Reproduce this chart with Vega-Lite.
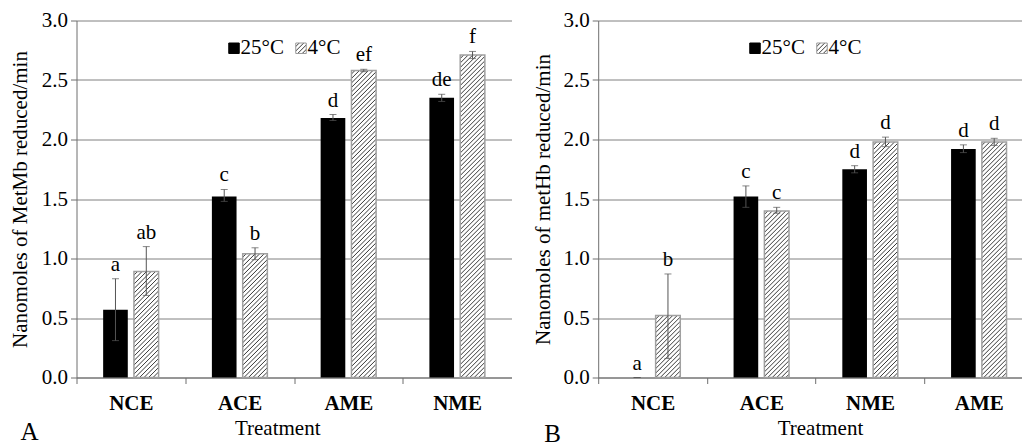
{
"$schema":"https://vega.github.io/schema/vega-lite/v6.json",
"background":"white",
"autosize":{"type":"pad"},
"padding":{"left":9.5,"top":9.5,"right":0,"bottom":0},
"params":[{"name":"hatch","value":[
{"offset":0,"color":"#fff"},{"offset":0.00688,"color":"#fff"},{"offset":0.00975,"color":"#3a3a3a"},
{"offset":0.0125,"color":"#fff"},{"offset":0.01938,"color":"#fff"},{"offset":0.02225,"color":"#3a3a3a"},
{"offset":0.025,"color":"#fff"},{"offset":0.03188,"color":"#fff"},{"offset":0.03475,"color":"#3a3a3a"},
{"offset":0.0375,"color":"#fff"},{"offset":0.04438,"color":"#fff"},{"offset":0.04725,"color":"#3a3a3a"},
{"offset":0.05,"color":"#fff"},{"offset":0.05688,"color":"#fff"},{"offset":0.05975,"color":"#3a3a3a"},
{"offset":0.0625,"color":"#fff"},{"offset":0.06938,"color":"#fff"},{"offset":0.07225,"color":"#3a3a3a"},
{"offset":0.075,"color":"#fff"},{"offset":0.08188,"color":"#fff"},{"offset":0.08475,"color":"#3a3a3a"},
{"offset":0.0875,"color":"#fff"},{"offset":0.09438,"color":"#fff"},{"offset":0.09725,"color":"#3a3a3a"},
{"offset":0.1,"color":"#fff"},{"offset":0.10688,"color":"#fff"},{"offset":0.10975,"color":"#3a3a3a"},
{"offset":0.1125,"color":"#fff"},{"offset":0.11938,"color":"#fff"},{"offset":0.12225,"color":"#3a3a3a"},
{"offset":0.125,"color":"#fff"},{"offset":0.13188,"color":"#fff"},{"offset":0.13475,"color":"#3a3a3a"},
{"offset":0.1375,"color":"#fff"},{"offset":0.14438,"color":"#fff"},{"offset":0.14725,"color":"#3a3a3a"},
{"offset":0.15,"color":"#fff"},{"offset":0.15688,"color":"#fff"},{"offset":0.15975,"color":"#3a3a3a"},
{"offset":0.1625,"color":"#fff"},{"offset":0.16938,"color":"#fff"},{"offset":0.17225,"color":"#3a3a3a"},
{"offset":0.175,"color":"#fff"},{"offset":0.18188,"color":"#fff"},{"offset":0.18475,"color":"#3a3a3a"},
{"offset":0.1875,"color":"#fff"},{"offset":0.19438,"color":"#fff"},{"offset":0.19725,"color":"#3a3a3a"},
{"offset":0.2,"color":"#fff"},{"offset":0.20688,"color":"#fff"},{"offset":0.20975,"color":"#3a3a3a"},
{"offset":0.2125,"color":"#fff"},{"offset":0.21938,"color":"#fff"},{"offset":0.22225,"color":"#3a3a3a"},
{"offset":0.225,"color":"#fff"},{"offset":0.23188,"color":"#fff"},{"offset":0.23475,"color":"#3a3a3a"},
{"offset":0.2375,"color":"#fff"},{"offset":0.24438,"color":"#fff"},{"offset":0.24725,"color":"#3a3a3a"},
{"offset":0.25,"color":"#fff"},{"offset":0.25688,"color":"#fff"},{"offset":0.25975,"color":"#3a3a3a"},
{"offset":0.2625,"color":"#fff"},{"offset":0.26938,"color":"#fff"},{"offset":0.27225,"color":"#3a3a3a"},
{"offset":0.275,"color":"#fff"},{"offset":0.28188,"color":"#fff"},{"offset":0.28475,"color":"#3a3a3a"},
{"offset":0.2875,"color":"#fff"},{"offset":0.29438,"color":"#fff"},{"offset":0.29725,"color":"#3a3a3a"},
{"offset":0.3,"color":"#fff"},{"offset":0.30688,"color":"#fff"},{"offset":0.30975,"color":"#3a3a3a"},
{"offset":0.3125,"color":"#fff"},{"offset":0.31938,"color":"#fff"},{"offset":0.32225,"color":"#3a3a3a"},
{"offset":0.325,"color":"#fff"},{"offset":0.33188,"color":"#fff"},{"offset":0.33475,"color":"#3a3a3a"},
{"offset":0.3375,"color":"#fff"},{"offset":0.34438,"color":"#fff"},{"offset":0.34725,"color":"#3a3a3a"},
{"offset":0.35,"color":"#fff"},{"offset":0.35688,"color":"#fff"},{"offset":0.35975,"color":"#3a3a3a"},
{"offset":0.3625,"color":"#fff"},{"offset":0.36938,"color":"#fff"},{"offset":0.37225,"color":"#3a3a3a"},
{"offset":0.375,"color":"#fff"},{"offset":0.38188,"color":"#fff"},{"offset":0.38475,"color":"#3a3a3a"},
{"offset":0.3875,"color":"#fff"},{"offset":0.39438,"color":"#fff"},{"offset":0.39725,"color":"#3a3a3a"},
{"offset":0.4,"color":"#fff"},{"offset":0.40688,"color":"#fff"},{"offset":0.40975,"color":"#3a3a3a"},
{"offset":0.4125,"color":"#fff"},{"offset":0.41938,"color":"#fff"},{"offset":0.42225,"color":"#3a3a3a"},
{"offset":0.425,"color":"#fff"},{"offset":0.43188,"color":"#fff"},{"offset":0.43475,"color":"#3a3a3a"},
{"offset":0.4375,"color":"#fff"},{"offset":0.44438,"color":"#fff"},{"offset":0.44725,"color":"#3a3a3a"},
{"offset":0.45,"color":"#fff"},{"offset":0.45688,"color":"#fff"},{"offset":0.45975,"color":"#3a3a3a"},
{"offset":0.4625,"color":"#fff"},{"offset":0.46938,"color":"#fff"},{"offset":0.47225,"color":"#3a3a3a"},
{"offset":0.475,"color":"#fff"},{"offset":0.48188,"color":"#fff"},{"offset":0.48475,"color":"#3a3a3a"},
{"offset":0.4875,"color":"#fff"},{"offset":0.49438,"color":"#fff"},{"offset":0.49725,"color":"#3a3a3a"},
{"offset":0.5,"color":"#fff"},{"offset":0.50688,"color":"#fff"},{"offset":0.50975,"color":"#3a3a3a"},
{"offset":0.5125,"color":"#fff"},{"offset":0.51938,"color":"#fff"},{"offset":0.52225,"color":"#3a3a3a"},
{"offset":0.525,"color":"#fff"},{"offset":0.53188,"color":"#fff"},{"offset":0.53475,"color":"#3a3a3a"},
{"offset":0.5375,"color":"#fff"},{"offset":0.54438,"color":"#fff"},{"offset":0.54725,"color":"#3a3a3a"},
{"offset":0.55,"color":"#fff"},{"offset":0.55688,"color":"#fff"},{"offset":0.55975,"color":"#3a3a3a"},
{"offset":0.5625,"color":"#fff"},{"offset":0.56938,"color":"#fff"},{"offset":0.57225,"color":"#3a3a3a"},
{"offset":0.575,"color":"#fff"},{"offset":0.58188,"color":"#fff"},{"offset":0.58475,"color":"#3a3a3a"},
{"offset":0.5875,"color":"#fff"},{"offset":0.59438,"color":"#fff"},{"offset":0.59725,"color":"#3a3a3a"},
{"offset":0.6,"color":"#fff"},{"offset":0.60688,"color":"#fff"},{"offset":0.60975,"color":"#3a3a3a"},
{"offset":0.6125,"color":"#fff"},{"offset":0.61938,"color":"#fff"},{"offset":0.62225,"color":"#3a3a3a"},
{"offset":0.625,"color":"#fff"},{"offset":0.63188,"color":"#fff"},{"offset":0.63475,"color":"#3a3a3a"},
{"offset":0.6375,"color":"#fff"},{"offset":0.64438,"color":"#fff"},{"offset":0.64725,"color":"#3a3a3a"},
{"offset":0.65,"color":"#fff"},{"offset":0.65688,"color":"#fff"},{"offset":0.65975,"color":"#3a3a3a"},
{"offset":0.6625,"color":"#fff"},{"offset":0.66938,"color":"#fff"},{"offset":0.67225,"color":"#3a3a3a"},
{"offset":0.675,"color":"#fff"},{"offset":0.68188,"color":"#fff"},{"offset":0.68475,"color":"#3a3a3a"},
{"offset":0.6875,"color":"#fff"},{"offset":0.69438,"color":"#fff"},{"offset":0.69725,"color":"#3a3a3a"},
{"offset":0.7,"color":"#fff"},{"offset":0.70688,"color":"#fff"},{"offset":0.70975,"color":"#3a3a3a"},
{"offset":0.7125,"color":"#fff"},{"offset":0.71938,"color":"#fff"},{"offset":0.72225,"color":"#3a3a3a"},
{"offset":0.725,"color":"#fff"},{"offset":0.73188,"color":"#fff"},{"offset":0.73475,"color":"#3a3a3a"},
{"offset":0.7375,"color":"#fff"},{"offset":0.74438,"color":"#fff"},{"offset":0.74725,"color":"#3a3a3a"},
{"offset":0.75,"color":"#fff"},{"offset":0.75688,"color":"#fff"},{"offset":0.75975,"color":"#3a3a3a"},
{"offset":0.7625,"color":"#fff"},{"offset":0.76938,"color":"#fff"},{"offset":0.77225,"color":"#3a3a3a"},
{"offset":0.775,"color":"#fff"},{"offset":0.78188,"color":"#fff"},{"offset":0.78475,"color":"#3a3a3a"},
{"offset":0.7875,"color":"#fff"},{"offset":0.79438,"color":"#fff"},{"offset":0.79725,"color":"#3a3a3a"},
{"offset":0.8,"color":"#fff"},{"offset":0.80688,"color":"#fff"},{"offset":0.80975,"color":"#3a3a3a"},
{"offset":0.8125,"color":"#fff"},{"offset":0.81938,"color":"#fff"},{"offset":0.82225,"color":"#3a3a3a"},
{"offset":0.825,"color":"#fff"},{"offset":0.83188,"color":"#fff"},{"offset":0.83475,"color":"#3a3a3a"},
{"offset":0.8375,"color":"#fff"},{"offset":0.84438,"color":"#fff"},{"offset":0.84725,"color":"#3a3a3a"},
{"offset":0.85,"color":"#fff"},{"offset":0.85688,"color":"#fff"},{"offset":0.85975,"color":"#3a3a3a"},
{"offset":0.8625,"color":"#fff"},{"offset":0.86938,"color":"#fff"},{"offset":0.87225,"color":"#3a3a3a"},
{"offset":0.875,"color":"#fff"},{"offset":0.88188,"color":"#fff"},{"offset":0.88475,"color":"#3a3a3a"},
{"offset":0.8875,"color":"#fff"},{"offset":0.89438,"color":"#fff"},{"offset":0.89725,"color":"#3a3a3a"},
{"offset":0.9,"color":"#fff"},{"offset":0.90688,"color":"#fff"},{"offset":0.90975,"color":"#3a3a3a"},
{"offset":0.9125,"color":"#fff"},{"offset":0.91938,"color":"#fff"},{"offset":0.92225,"color":"#3a3a3a"},
{"offset":0.925,"color":"#fff"},{"offset":0.93188,"color":"#fff"},{"offset":0.93475,"color":"#3a3a3a"},
{"offset":0.9375,"color":"#fff"},{"offset":0.94438,"color":"#fff"},{"offset":0.94725,"color":"#3a3a3a"},
{"offset":0.95,"color":"#fff"},{"offset":0.95688,"color":"#fff"},{"offset":0.95975,"color":"#3a3a3a"},
{"offset":0.9625,"color":"#fff"},{"offset":0.96938,"color":"#fff"},{"offset":0.97225,"color":"#3a3a3a"},
{"offset":0.975,"color":"#fff"},{"offset":0.98188,"color":"#fff"},{"offset":0.98475,"color":"#3a3a3a"},
{"offset":0.9875,"color":"#fff"},{"offset":0.99438,"color":"#fff"},{"offset":0.99725,"color":"#3a3a3a"},
{"offset":1,"color":"#fff"}
]}],
"datasets":{
"dsA":[
{"treatment":"NCE","temp":"25°C","value":0.57,"lo":0.31,"hi":0.83,"label":"a"},
{"treatment":"NCE","temp":"4°C","value":0.89,"lo":0.69,"hi":1.10,"label":"ab"},
{"treatment":"ACE","temp":"25°C","value":1.52,"lo":1.48,"hi":1.58,"label":"c"},
{"treatment":"ACE","temp":"4°C","value":1.04,"lo":0.99,"hi":1.09,"label":"b"},
{"treatment":"AME","temp":"25°C","value":2.18,"lo":2.16,"hi":2.21,"label":"d"},
{"treatment":"AME","temp":"4°C","value":2.58,"lo":2.57,"hi":2.59,"label":"ef"},
{"treatment":"NME","temp":"25°C","value":2.35,"lo":2.32,"hi":2.38,"label":"de"},
{"treatment":"NME","temp":"4°C","value":2.71,"lo":2.68,"hi":2.74,"label":"f"}
],
"dsB":[
{"treatment":"NCE","temp":"25°C","value":0,"lo":0,"hi":0,"label":"a"},
{"treatment":"NCE","temp":"4°C","value":0.52,"lo":0.16,"hi":0.87,"label":"b"},
{"treatment":"ACE","temp":"25°C","value":1.52,"lo":1.43,"hi":1.61,"label":"c"},
{"treatment":"ACE","temp":"4°C","value":1.40,"lo":1.38,"hi":1.43,"label":"c"},
{"treatment":"NME","temp":"25°C","value":1.75,"lo":1.72,"hi":1.78,"label":"d"},
{"treatment":"NME","temp":"4°C","value":1.98,"lo":1.94,"hi":2.02,"label":"d"},
{"treatment":"AME","temp":"25°C","value":1.92,"lo":1.89,"hi":1.955,"label":"d"},
{"treatment":"AME","temp":"4°C","value":1.98,"lo":1.95,"hi":2.01,"label":"d"}
]
},
"bounds":"flush",
"spacing":86.7,
"resolve":{"scale":{"color":"independent","x":"independent","y":"independent","xOffset":"independent"},"legend":{"color":"independent"},"axis":{"x":"independent","y":"independent"}},
"hconcat":[
{
"width":435,"height":357,
"data":{"name":"dsA"},
"title":{"text":"A","orient":"bottom","anchor":"start","frame":"group","dx":-56,"offset":1,"fontSize":25,"fontWeight":"normal","baseline":"alphabetic","color":"black"},
"encoding":{
"x":{"field":"treatment","type":"nominal","sort":["NCE","ACE","AME","NME"],"scale":{"paddingInner":0.49,"paddingOuter":0.245},
 "axis":{"title":"Treatment","labelAngle":0,"labelFontWeight":"bold","tickSize":6,"tickOffset":-54.375,"labelOffset":54.375,"labelPadding":9,"titleX":200.7,"titleY":57,"titleBaseline":"alphabetic","grid":false}},
"xOffset":{"field":"temp","type":"nominal","sort":["25°C","4°C"],"scale":{"domain":["25°C","4°C"],"paddingInner":0.2,"paddingOuter":0}}
},
"layer":[
{"mark":{"type":"bar"},
 "encoding":{
 "y":{"field":"value","type":"quantitative","title":"Nanomoles of MetMb reduced/min","scale":{"domain":[0,3],"nice":false},
  "axis":{"values":[0,0.5,1,1.5,2,2.5,3],"format":".1f","grid":true,"tickSize":6,"labelPadding":3,"titleX":-56,"titleY":178.5,"titleBaseline":"middle"}},
 "color":{"field":"temp","type":"nominal","sort":["25°C","4°C"],"scale":{"domain":["25°C","4°C"],"range":["black",{"expr":"{gradient:'linear',x1:0,y1:0,x2:17.1,y2:17.1,stops:hatch}"}]},
  "legend":{"orient":"none","legendX":147,"legendY":17,"direction":"horizontal","title":null,"symbolType":"square","symbolSize":110,"columnPadding":6,"labelOffset":-4,"padding":0,
   "encode":{"symbols":{"update":{"stroke":{"signal":"datum.value == '4°C' ? '#999999' : 'black'"},"strokeWidth":{"value":1}}}}}}
 }},
{"transform":[{"filter":"datum.temp == '4°C'"}],
 "mark":{"type":"bar","stroke":"#a0a0a0","strokeWidth":1.5,
  "fill":{"expr":"{gradient:'linear',x1:0,y1:0,x2:360*24.67/(608.6+pow(datum.value*119,2)),y2:360*datum.value*119/(608.6+pow(datum.value*119,2)),stops:hatch}"}},
 "encoding":{"y":{"field":"value","type":"quantitative","title":"Nanomoles of MetMb reduced/min"}}},
{"mark":{"type":"rule","color":"#555555","strokeWidth":1},
 "encoding":{"y":{"field":"lo","type":"quantitative","title":"Nanomoles of MetMb reduced/min"},"y2":{"field":"hi"}}},
{"mark":{"type":"tick","color":"#555555","thickness":1,"size":7,"orient":"horizontal"},
 "encoding":{"y":{"field":"lo","type":"quantitative","title":"Nanomoles of MetMb reduced/min"}}},
{"mark":{"type":"tick","color":"#555555","thickness":1,"size":7,"orient":"horizontal"},
 "encoding":{"y":{"field":"hi","type":"quantitative","title":"Nanomoles of MetMb reduced/min"}}},
{"mark":{"type":"text","dy":-8,"baseline":"alphabetic","fontSize":21,"color":"black"},
 "encoding":{"y":{"field":"hi","type":"quantitative","title":"Nanomoles of MetMb reduced/min"},"text":{"field":"label"}}}
]
},
{
"width":424.3,"height":357,
"data":{"name":"dsB"},
"title":{"text":"B","orient":"bottom","anchor":"start","frame":"group","dx":-54,"offset":3,"fontSize":25,"fontWeight":"normal","baseline":"alphabetic","color":"black"},
"encoding":{
"x":{"field":"treatment","type":"nominal","sort":["NCE","ACE","NME","AME"],"scale":{"paddingInner":0.49,"paddingOuter":0.1958,"align":0.625},
 "axis":{"title":"Treatment","labelAngle":0,"labelFontWeight":"bold","tickSize":6,"tickOffset":-54.375,"labelOffset":54.375,"labelPadding":9,"titleX":221.8,"titleY":57,"titleBaseline":"alphabetic","grid":false}},
"xOffset":{"field":"temp","type":"nominal","sort":["25°C","4°C"],"scale":{"domain":["25°C","4°C"],"paddingInner":0.2,"paddingOuter":0}}
},
"layer":[
{"mark":{"type":"bar"},
 "encoding":{
 "y":{"field":"value","type":"quantitative","title":"Nanomoles of metHb reduced/min","scale":{"domain":[0,3],"nice":false},
  "axis":{"values":[0,0.5,1,1.5,2,2.5,3],"format":".1f","grid":true,"tickSize":6,"labelPadding":3,"titleX":-55,"titleY":178.5,"titleBaseline":"middle"}},
 "color":{"field":"temp","type":"nominal","sort":["25°C","4°C"],"scale":{"domain":["25°C","4°C"],"range":["black",{"expr":"{gradient:'linear',x1:0,y1:0,x2:17.1,y2:17.1,stops:hatch}"}]},
  "legend":{"orient":"none","legendX":146.3,"legendY":17,"direction":"horizontal","title":null,"symbolType":"square","symbolSize":110,"columnPadding":6,"labelOffset":-4,"padding":0,
   "encode":{"symbols":{"update":{"stroke":{"signal":"datum.value == '4°C' ? '#999999' : 'black'"},"strokeWidth":{"value":1}}}}}}
 }},
{"transform":[{"filter":"datum.temp == '4°C'"}],
 "mark":{"type":"bar","stroke":"#a0a0a0","strokeWidth":1.5,
  "fill":{"expr":"{gradient:'linear',x1:0,y1:0,x2:360*24.67/(608.6+pow(datum.value*119,2)),y2:360*datum.value*119/(608.6+pow(datum.value*119,2)),stops:hatch}"}},
 "encoding":{"y":{"field":"value","type":"quantitative","title":"Nanomoles of metHb reduced/min"}}},
{"mark":{"type":"rule","color":"#555555","strokeWidth":1},
 "encoding":{"y":{"field":"lo","type":"quantitative","title":"Nanomoles of metHb reduced/min"},"y2":{"field":"hi"}}},
{"mark":{"type":"tick","color":"#555555","thickness":1,"size":7,"orient":"horizontal"},
 "encoding":{"y":{"field":"lo","type":"quantitative","title":"Nanomoles of metHb reduced/min"}}},
{"mark":{"type":"tick","color":"#555555","thickness":1,"size":7,"orient":"horizontal"},
 "encoding":{"y":{"field":"hi","type":"quantitative","title":"Nanomoles of metHb reduced/min"}}},
{"mark":{"type":"text","dy":-8,"baseline":"alphabetic","fontSize":21,"color":"black"},
 "encoding":{"y":{"field":"hi","type":"quantitative","title":"Nanomoles of metHb reduced/min"},"text":{"field":"label"}}}
]
}
],
"config":{
"font":"Liberation Serif",
"view":{"stroke":null},
"axis":{"labelFont":"Liberation Serif","labelFontSize":21,"labelColor":"black","titleFont":"Liberation Serif","titleFontSize":21,"titleFontWeight":"normal","titleColor":"black","domainColor":"#6f6f6f","tickColor":"#6f6f6f","gridColor":"#808080","gridWidth":1},
"legend":{"labelFont":"Liberation Serif","labelFontSize":21,"labelColor":"black"},
"title":{"font":"Liberation Serif"}
}
}
